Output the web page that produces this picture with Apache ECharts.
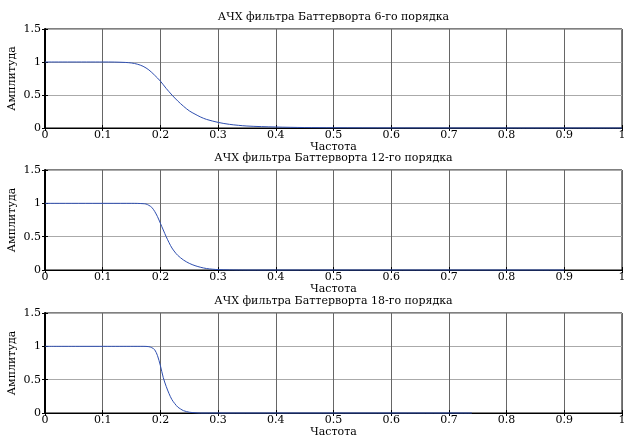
<!DOCTYPE html>
<html>
<head>
<meta charset="utf-8">
<script src="https://cdn.jsdelivr.net/npm/echarts@6/dist/echarts.min.js"></script>
<style>html,body{margin:0;padding:0;background:#fff}#c{width:625px;height:435px}</style>
</head>
<body>
<div id="c"></div>
<script>
// ---- data ----
const titles = [
  'АЧХ фильтра Баттерворта 6-го порядка',
  'АЧХ фильтра Баттерворта 12-го порядка',
  'АЧХ фильтра Баттерворта 18-го порядка'
];
const xName = 'Частота';
const yName = 'Амплитуда';
const xTicks = ['0','0.1','0.2','0.3','0.4','0.5','0.6','0.7','0.8','0.9','1'];
const yTicks = ['0','0.5','1','1.5'];

const freq6 = [0, 0.10, 0.12, 0.14, 0.15, 0.16, 0.17, 0.18, 0.19, 0.20, 0.21, 0.22, 0.23, 0.24, 0.25, 0.26, 0.27, 0.28, 0.30, 0.32, 0.35, 0.40, 0.45, 0.50, 0.60, 0.80, 1.00];
const amp6  = [1, 1.000, 0.999, 0.993, 0.985, 0.967, 0.935, 0.88, 0.80, 0.71, 0.60, 0.50, 0.41, 0.33, 0.26, 0.21, 0.165, 0.13, 0.085, 0.055, 0.03, 0.015, 0.007, 0.004, 0.001, 0, 0];

const freq12 = [0, 0.15, 0.16, 0.17, 0.175, 0.18, 0.185, 0.19, 0.195, 0.20, 0.205, 0.21, 0.215, 0.22, 0.225, 0.23, 0.24, 0.25, 0.26, 0.27, 0.28, 0.29, 0.30, 0.32, 0.35, 0.90];
const amp12  = [1, 1, 0.999, 0.995, 0.99, 0.97, 0.94, 0.88, 0.80, 0.70, 0.60, 0.50, 0.41, 0.33, 0.27, 0.22, 0.15, 0.10, 0.065, 0.04, 0.022, 0.012, 0.006, 0.002, 0, 0];

const freq18 = [0, 0.17, 0.18, 0.185, 0.19, 0.195, 0.20, 0.205, 0.21, 0.215, 0.22, 0.225, 0.23, 0.235, 0.24, 0.25, 0.26, 0.27, 0.74];
const amp18  = [1, 1, 0.995, 0.98, 0.95, 0.86, 0.71, 0.53, 0.40, 0.29, 0.20, 0.14, 0.09, 0.06, 0.035, 0.012, 0.004, 0, 0];

const freqs = [freq6, freq12, freq18];
const amps = [amp6, amp12, amp18];

// ---- layout ----
const FONT = "'DejaVu Serif','Liberation Serif',serif";
const tops = [29, 170, 313];
const heights = [99, 100, 100];
const L = 45, R = 3;
const centerX = 45 + (625 - 45 - 3) / 2;

const chart = echarts.init(document.getElementById('c'));
const grid = [], xAxis = [], yAxis = [], series = [], title = [];
for (let i = 0; i < 3; i++) {
  grid.push({left: L, right: R, top: tops[i], height: heights[i], containLabel: false, outerBoundsMode: 'none',
    show: true, borderColor: '#000', borderWidth: 1, backgroundColor: 'transparent'});
  title.push({text: titles[i], left: centerX, top: tops[i] - 17, textAlign: 'center', padding: 0,
    textStyle: {fontFamily: FONT, fontSize: 11, fontWeight: 'normal', color: '#000'}});
  // bottom x axis
  xAxis.push({type: 'value', gridIndex: i, min: 0, max: 1, interval: 0.1,
    name: xName, nameLocation: 'middle', nameGap: 11,
    nameTextStyle: {fontFamily: FONT, fontSize: 11, color: '#000'},
    axisLine: {show: true, lineStyle: {color: '#000', width: 1}},
    axisTick: {show: true, inside: true, length: 3, lineStyle: {color: '#000'}},
    axisLabel: {fontFamily: FONT, fontSize: 11, color: '#000', margin: 2,
      formatter: v => xTicks[Math.round(v * 10)]},
    splitLine: {show: true, lineStyle: {color: '#666', width: 1}}
  });
  // top x axis (ticks only)
  xAxis.push({type: 'value', gridIndex: i, min: 0, max: 1, interval: 0.1, position: 'top',
    axisLine: {show: false}, axisTick: {show: true, inside: true, length: 3, lineStyle: {color: '#000'}},
    axisLabel: {show: false}, splitLine: {show: false}});
  // left y axis
  yAxis.push({type: 'value', gridIndex: i, min: 0, max: 1.5, interval: 0.5,
    name: yName, nameLocation: 'middle', nameGap: 27, nameRotate: 90, nameMoveOverlap: false,
    nameTextStyle: {fontFamily: FONT, fontSize: 11, color: '#000'},
    axisLine: {show: true, lineStyle: {color: '#000', width: 1}},
    axisTick: {show: true, inside: true, length: 3, lineStyle: {color: '#000'}},
    axisLabel: {fontFamily: FONT, fontSize: 11, color: '#000', margin: 4,
      formatter: v => yTicks[Math.round(v * 2)]},
    splitLine: {show: true, lineStyle: {color: '#aaa', width: 1}}
  });
  // right y axis (ticks only)
  yAxis.push({type: 'value', gridIndex: i, min: 0, max: 1.5, interval: 0.5, position: 'right',
    axisLine: {show: true, lineStyle: {color: '#000', width: 2}},
    axisTick: {show: true, inside: true, length: 3, lineStyle: {color: '#000'}},
    axisLabel: {show: false}, splitLine: {show: false}});
  series.push({type: 'line', xAxisIndex: i * 2, yAxisIndex: i * 2, showSymbol: false, clip: false,
    smooth: 0.3, lineStyle: {color: '#2f4fb0', width: 1}, z: 5,
    data: freqs[i].map((f, k) => [f, amps[i][k]])});
}
chart.setOption({animation: false, backgroundColor: '#fff', title, grid, xAxis, yAxis, series});
</script>
</body>
</html>
